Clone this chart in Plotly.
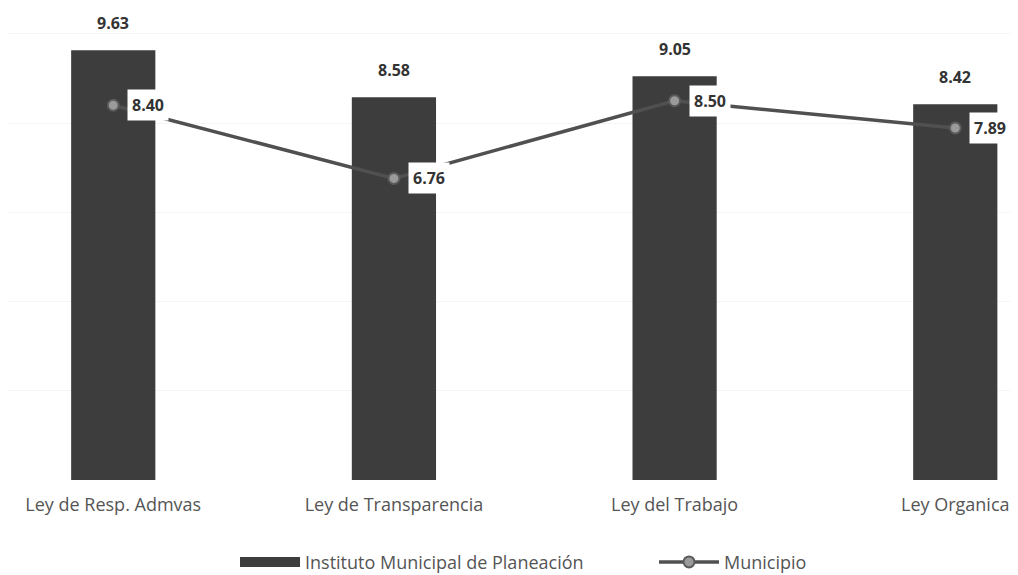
import plotly.graph_objects as go

categories = ["Ley de Resp. Admvas", "Ley de Transparencia", "Ley del Trabajo", "Ley Organica"]
instituto = [9.63, 8.58, 9.05, 8.42]
municipio = [8.40, 6.76, 8.50, 7.89]
series_names = ["Instituto Municipal de Planeación", "Municipio"]

xpos = list(range(len(categories)))
font_family = "Open Sans, Noto Sans, sans-serif"
bar_color = "#3d3d3d"
legend_pad = "\u00a0" * 14  # invisible spacing between legend entries

fig = go.Figure()
fig.add_trace(go.Bar(
    x=xpos, y=instituto, name=series_names[0], width=0.30, showlegend=False,
    marker=dict(color=bar_color, line=dict(width=0)),
))
# legend entry with a wide rectangular swatch for the bars
fig.add_trace(go.Scatter(
    x=[None], y=[None], name=series_names[0] + legend_pad, mode="lines",
    line=dict(color=bar_color, width=12),
))
fig.add_trace(go.Scatter(
    x=xpos, y=municipio, name=series_names[1], mode="lines+markers",
    line=dict(color="#505050", width=3.5),
    marker=dict(symbol="circle", size=11, color="#9a9a9a", line=dict(color="#5a5a5a", width=2)),
))

annotations = []
for xi, v in zip(xpos, instituto):
    annotations.append(dict(x=xi, y=v, text=f"<b>{v:.2f}</b>", showarrow=False,
                            yanchor="bottom", yshift=14, font=dict(size=16, color="#333333", family=font_family)))
for xi, v in zip(xpos, municipio):
    annotations.append(dict(x=xi, y=v, text=f"<b>{v:.2f}</b>", showarrow=False,
                            xanchor="left", xshift=14, bgcolor="white", borderpad=4,
                            font=dict(size=16, color="#333333", family=font_family)))

fig.update_layout(
    width=1018, height=575,
    margin=dict(l=0, r=0, t=8, b=103),
    paper_bgcolor="white", plot_bgcolor="white",
    font=dict(family=font_family, color="#555555", size=18),
    showlegend=True,
    legend=dict(orientation="h", x=0.223, xanchor="left", y=0.004, yanchor="bottom",
                yref="container",
                font=dict(size=18, color="#555555"), itemwidth=60),
    annotations=annotations,
)
fig.update_xaxes(range=[-0.375, 3.252], tickvals=xpos, ticktext=categories,
                 showline=False, showgrid=False, zeroline=False, ticks="",
                 ticklabelstandoff=12,
                 tickfont=dict(size=18, color="#555555"))
fig.update_yaxes(range=[0, 10.4], showticklabels=False, showgrid=True, gridcolor="#f5f5f5",
                 dtick=2, zeroline=False, showline=False)

fig.write_html("out.html")
